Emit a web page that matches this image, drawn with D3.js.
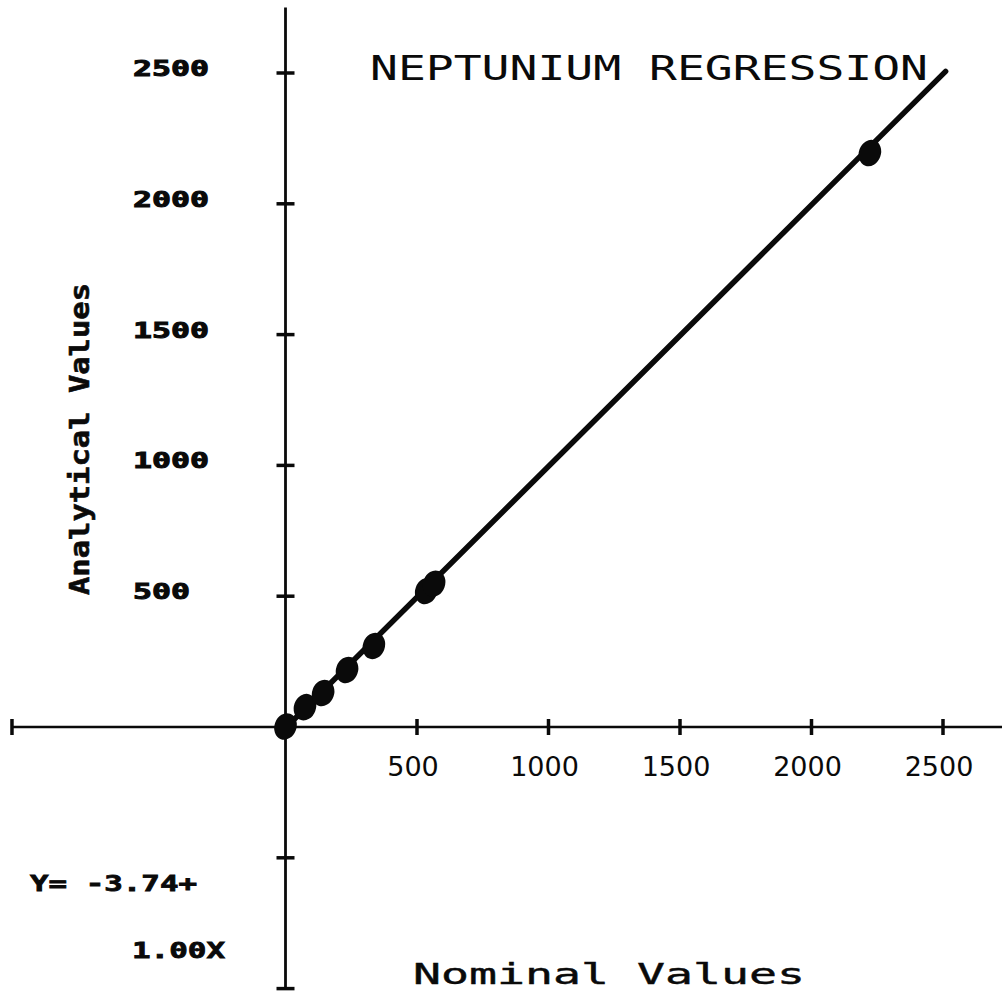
<!DOCTYPE html>
<html>
<head>
<meta charset="utf-8">
<script src="https://cdn.jsdelivr.net/npm/d3@7/dist/d3.min.js"></script>
<style>
  html, body { margin: 0; padding: 0; background: #fff; }
  svg { display: block; }
</style>
</head>
<body>
<svg id="chart" width="1002" height="997"></svg>
<script>
// Neptunium calibration: nominal vs analytical concentrations
const nominal    = [0, 74, 143, 234, 336, 535, 565, 2222];
const analytical = [2, 76, 130, 218, 310, 520, 548, 2194];

// Least-squares fit printed on the plot
const intercept = -3.74;
const slope = 1.00;

const xTickValues = [500, 1000, 1500, 2000, 2500];
const xTickLabels = ["500", "1000", "1500", "2000", "2500"];
const yTickValues = [-1000, -500, 500, 1000, 1500, 2000, 2500];
const yLabelValues = [500, 1000, 1500, 2000, 2500];
const yTickLabels = ["500", "1000", "1500", "2000", "2500"];

const title = "NEPTUNIUM REGRESSION";
const xTitle = "Nominal Values";
const yTitle = "Analytical Values";
const eqLine1 = "Y= -3.74+";
const eqLine2 = "1.00X";

const svg = d3.select("#chart");

const x = d3.scaleLinear().domain([0, 2500]).range([285.5, 943]);
const y = d3.scaleLinear().domain([0, 2500]).range([727, 73]);

const ink = "#0a0a0a";

// Axes crossing at the origin
const xAxisExtent = [-1040, 2730];
const yAxisExtent = [-1000, 2750];

const axes = svg.append("g").attr("stroke", ink).attr("fill", "none");

axes.append("line")
  .attr("x1", x(xAxisExtent[0])).attr("x2", x(xAxisExtent[1]))
  .attr("y1", y(0)).attr("y2", y(0))
  .attr("stroke-width", 2.6);

axes.append("line")
  .attr("x1", x(0)).attr("x2", x(0))
  .attr("y1", y(yAxisExtent[0])).attr("y2", y(yAxisExtent[1]))
  .attr("stroke-width", 2.8);

// Cross ticks on the horizontal axis
axes.selectAll("line.xt")
  .data(xTickValues.concat([xAxisExtent[0]]))
  .join("line")
  .attr("class", "xt")
  .attr("x1", d => x(d)).attr("x2", d => x(d))
  .attr("y1", y(0) - 8).attr("y2", y(0) + 8)
  .attr("stroke-width", 3.5);

// Cross ticks on the vertical axis
axes.selectAll("line.yt")
  .data(yTickValues)
  .join("line")
  .attr("class", "yt")
  .attr("x1", x(0) - 9).attr("x2", x(0) + 9)
  .attr("y1", d => y(d)).attr("y2", d => y(d))
  .attr("stroke-width", 3.5);

// Horizontal tick labels (thin plotter lettering)
svg.append("g")
  .selectAll("text")
  .data(xTickValues)
  .join("text")
  .attr("x", d => x(d) - 4)
  .attr("y", 776)
  .attr("text-anchor", "middle")
  .attr("font-family", "DejaVu Sans")
  .attr("font-size", 27)
  .attr("fill", ink)
  .text((d, i) => xTickLabels[i]);

// Vertical tick labels (bold block lettering)
svg.append("g")
  .selectAll("text")
  .data(yLabelValues)
  .join("text")
  .attr("x", 133)
  .attr("y", d => y(d) + 3)
  .attr("font-family", "DejaVu Sans Mono")
  .attr("font-weight", "bold")
  .attr("font-size", 22)
  .attr("fill", ink)
  .attr("stroke", ink)
  .attr("stroke-width", 1)
  .attr("textLength", (d, i) => yTickLabels[i].length * 19)
  .attr("lengthAdjust", "spacingAndGlyphs")
  .text((d, i) => yTickLabels[i]);

// Chart title
svg.append("text")
  .attr("x", 370).attr("y", 80)
  .attr("font-family", "DejaVu Sans Mono")
  .attr("font-size", 33)
  .attr("fill", ink)
  .attr("textLength", 558)
  .attr("lengthAdjust", "spacingAndGlyphs")
  .text(title);

// Axis titles
svg.append("text")
  .attr("x", 413).attr("y", 984)
  .attr("font-family", "DejaVu Sans Mono")
  .attr("font-size", 29)
  .attr("fill", ink)
  .attr("stroke", ink)
  .attr("stroke-width", 0.4)
  .attr("textLength", 392)
  .attr("lengthAdjust", "spacingAndGlyphs")
  .text(xTitle);

svg.append("text")
  .attr("transform", "translate(89,595) rotate(-90)")
  .attr("x", 0).attr("y", 0)
  .attr("font-family", "DejaVu Sans Mono")
  .attr("font-weight", "bold")
  .attr("font-size", 27)
  .attr("fill", ink)
  .attr("stroke", ink)
  .attr("stroke-width", 0.6)
  .attr("textLength", 312)
  .attr("lengthAdjust", "spacingAndGlyphs")
  .text(yTitle);

// Regression equation
svg.append("text")
  .attr("x", 30).attr("y", 891)
  .attr("font-family", "DejaVu Sans Mono")
  .attr("font-weight", "bold")
  .attr("font-size", 22)
  .attr("fill", ink)
  .attr("stroke", ink)
  .attr("stroke-width", 0.8)
  .attr("textLength", 167)
  .attr("lengthAdjust", "spacingAndGlyphs")
  .text(eqLine1);

svg.append("text")
  .attr("x", 132).attr("y", 958)
  .attr("font-family", "DejaVu Sans Mono")
  .attr("font-weight", "bold")
  .attr("font-size", 22)
  .attr("fill", ink)
  .attr("stroke", ink)
  .attr("stroke-width", 0.8)
  .attr("textLength", 93)
  .attr("lengthAdjust", "spacingAndGlyphs")
  .text(eqLine2);

// Fitted line
const fitX = [0, 2510];
svg.append("line")
  .attr("x1", x(fitX[0])).attr("y1", y(intercept + slope * fitX[0]))
  .attr("x2", x(fitX[1])).attr("y2", y(intercept + slope * fitX[1]))
  .attr("stroke", ink)
  .attr("stroke-width", 5.5)
  .attr("stroke-linecap", "round");

// Measured points
svg.append("g")
  .selectAll("ellipse")
  .data(nominal.map((n, i) => ({ n, a: analytical[i] })))
  .join("ellipse")
  .attr("cx", d => x(d.n))
  .attr("cy", d => y(d.a))
  .attr("rx", 11)
  .attr("ry", 13.5)
  .attr("transform", d => `rotate(20,${x(d.n)},${y(d.a)})`)
  .attr("fill", ink);
</script>
</body>
</html>
